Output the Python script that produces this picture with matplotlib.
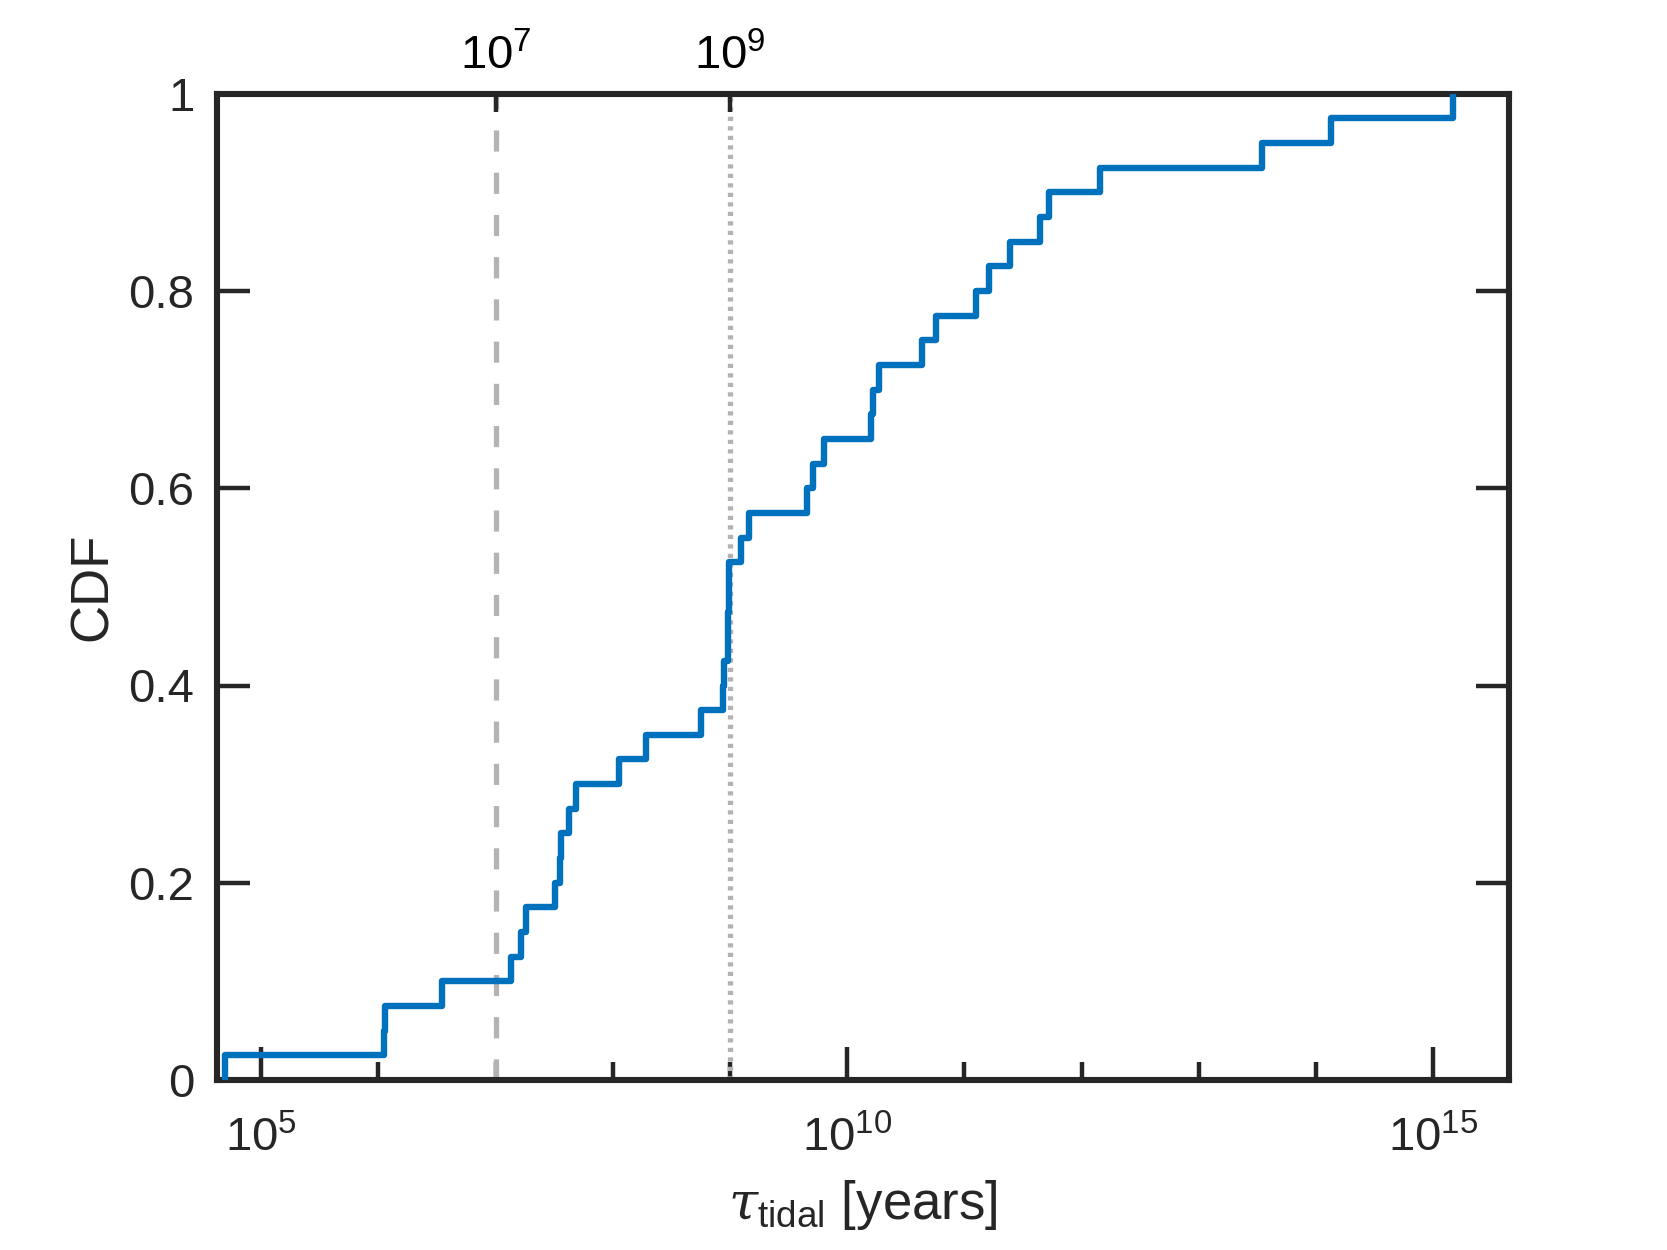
import numpy as np
import matplotlib
matplotlib.use("Agg")
import matplotlib.pyplot as plt
from matplotlib.ticker import FixedLocator, FixedFormatter, NullFormatter

plt.rcParams['font.family'] = ['Liberation Sans', 'DejaVu Sans']
plt.rcParams['mathtext.fontset'] = 'custom'
plt.rcParams['mathtext.rm'] = 'Liberation Sans'
plt.rcParams['mathtext.it'] = 'DejaVu Serif:italic'
plt.rcParams['mathtext.default'] = 'regular'

# log10 of tidal timescale [years] for each sample
log_tau = [4.69, 6.05, 6.06, 6.54, 7.13, 7.22, 7.26, 7.51, 7.55, 7.56,
           7.63, 7.69, 8.05, 8.28, 8.75, 8.94, 8.95, 8.98, 8.985, 8.99,
           8.995, 9.09, 9.16, 9.66, 9.71, 9.80, 10.20, 10.22, 10.27, 10.64,
           10.76, 11.10, 11.21, 11.39, 11.65, 11.72, 12.16, 13.54, 14.13, 15.17]
tau = np.sort(10.0 ** np.array(log_tau))

ref_lines = [1e7, 1e9]
ref_labels = [r'$10^{7}$', r'$10^{9}$']
xmajor = [1e5, 1e10, 1e15]
xmajor_labels = [r'$10^{5}$', r'$10^{10}$', r'$10^{15}$']
yticks = [0, 0.2, 0.4, 0.6, 0.8, 1.0]
ytick_labels = ['0', '0.2', '0.4', '0.6', '0.8', '1']

n = len(tau)
cdf = np.arange(1, n + 1) / n
xs = np.r_[tau[0], tau]
ys = np.r_[0.0, cdf]

fig = plt.figure(figsize=(1667 / 200, 1250 / 200), dpi=200)
ax = fig.add_axes([0.13, 0.136, 0.775, 0.789])

dark = '#262626'
ax.step(xs, ys, where='post', color='#0072BD', lw=2.3, zorder=3)
ax.axvline(ref_lines[0], color='#B3B3B3', lw=1.9, ls=(0, (4, 4)), zorder=2)
ax.axvline(ref_lines[1], color='#B3B3B3', lw=1.9, ls=(0, (0.8, 1.0)), zorder=2)

ax.set_xscale('log')
xlim = (10 ** 4.62, 10 ** 15.645)
ax.set_xlim(*xlim)
ax.set_ylim(0, 1)

ax.xaxis.set_major_locator(FixedLocator(xmajor))
ax.xaxis.set_major_formatter(FixedFormatter(xmajor_labels))
decades = [10.0 ** k for k in range(5, 16) if 10.0 ** k not in xmajor]
ax.xaxis.set_minor_locator(FixedLocator(decades))
ax.xaxis.set_minor_formatter(NullFormatter())
ax.yaxis.set_major_locator(FixedLocator(yticks))
ax.yaxis.set_major_formatter(FixedFormatter(ytick_labels))

ax.tick_params(which='both', direction='in', top=True, right=True,
               colors=dark, width=1.6)
ax.tick_params(which='major', length=12, labelsize=17, pad=8)
ax.tick_params(which='minor', length=6.5)
ax.tick_params(axis='x', which='major', pad=13)
for s in ax.spines.values():
    s.set_linewidth(2.2)
    s.set_color(dark)

ax.set_ylabel('CDF', fontsize=19, color=dark, labelpad=4)
ax.set_xlabel(r'$\mathit{\tau}_{tidal}$ [years]', fontsize=19, color=dark, labelpad=6)

ax2 = ax.twiny()
ax2.set_xscale('log')
ax2.set_xlim(*xlim)
ax2.xaxis.set_major_locator(FixedLocator(ref_lines))
ax2.xaxis.set_major_formatter(FixedFormatter(ref_labels))
ax2.xaxis.set_minor_locator(FixedLocator([]))
ax2.tick_params(axis='x', which='major', direction='in', length=6.5, width=1.6,
                color=dark, labelcolor='black', labelsize=17, pad=5,
                bottom=False, top=True)
for s in ax2.spines.values():
    s.set_visible(False)

fig.savefig('out.png', dpi=200)
